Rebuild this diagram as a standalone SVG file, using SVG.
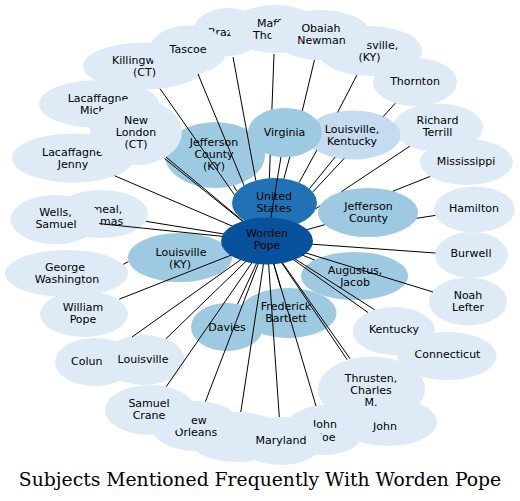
<svg xmlns="http://www.w3.org/2000/svg" width="520" height="501" viewBox="0 0 520 501">
<style>
.l{fill:#deebf7}
.m{fill:#9ecae1}
.k{fill:#c6dbef}
.u{fill:#2171b5}
.w{fill:#08519c}
text{font-family:"DejaVu Sans",sans-serif;font-size:11px;fill:#000;text-anchor:middle}
text.s{text-anchor:start}
#edges path{stroke:#000;stroke-width:1;fill:none}
text.t{font-family:"DejaVu Serif",serif;font-size:18.75px}
</style>
<rect width="520" height="501" fill="#fff"/>
<g id="nodes">
<g id="n-braz"><ellipse class="l" cx="228" cy="32" rx="35" ry="24"/><text class="s" x="208" y="36">Braz</text></g>
<g id="n-killingworth"><ellipse class="l" cx="144" cy="66" rx="61" ry="23.5"/><text class="s" x="112" y="63.5">Killingw</text><text x="144.5" y="75.5">(CT)</text></g>
<g id="n-tascoe"><ellipse class="l" cx="188" cy="50" rx="38.5" ry="24.5"/><text x="188" y="53.3">Tascoe</text></g>
<g id="n-louisville-ky-2"><ellipse class="l" cx="370" cy="51" rx="52" ry="25"/><text class="s" x="366.5" y="49">sville,</text><text x="369.5" y="61">(KY)</text></g>
<g id="n-maff"><ellipse class="l" cx="275" cy="29" rx="46" ry="24"/><text class="s" x="257" y="26.5">Maff</text><text class="s" x="253" y="38.5">Tho</text></g>
<g id="n-obaiah"><ellipse class="l" cx="321" cy="35" rx="50" ry="25"/><text x="321" y="32">Obaiah</text><text x="321.5" y="44">Newman</text></g>
<g id="n-thornton"><ellipse class="l" cx="415" cy="82" rx="42" ry="24"/><text x="415" y="85">Thornton</text></g>
<g id="n-lacaffagne-mich"><ellipse class="l" cx="99" cy="104" rx="60" ry="24"/><text x="98" y="102">Lacaffagne</text><text class="s" x="80" y="114">Mich</text></g>
<g id="n-lacaffagne-jenny"><ellipse class="l" cx="73" cy="158" rx="61" ry="24.5"/><text class="s" x="42" y="155.5">Lacaffagne</text><text x="73" y="167.5">Jenny</text></g>
<g id="n-jefferson-county-ky"><ellipse class="m" cx="215" cy="155" rx="50" ry="33"/><text x="214" y="146">Jefferson</text><text x="214" y="158">County</text><text x="214" y="170">(KY)</text></g>
<g id="n-new-london"><ellipse class="l" cx="136" cy="132" rx="46" ry="33"/><text x="136" y="124">New</text><text x="136" y="136">London</text><text x="136" y="148">(CT)</text></g>
<g id="n-richard-terrill"><ellipse class="l" cx="438" cy="127.5" rx="45" ry="24"/><text x="437.5" y="124">Richard</text><text x="437.5" y="136">Terrill</text></g>
<g id="n-mississippi"><ellipse class="l" cx="466.5" cy="162" rx="46.5" ry="23"/><text x="466" y="165">Mississippi</text></g>
<g id="n-hamilton"><ellipse class="l" cx="474.5" cy="209.5" rx="40.5" ry="23"/><text x="474" y="212.3">Hamilton</text></g>
<g id="n-meal"><ellipse class="l" cx="101" cy="214" rx="47" ry="24"/><text class="s" x="91.5" y="213">meal,</text><text class="s" x="100" y="225">mas</text></g>
<g id="n-wells-samuel"><ellipse class="l" cx="55.5" cy="219.5" rx="45" ry="24.5"/><text x="55.5" y="216">Wells,</text><text x="56" y="228">Samuel</text></g>
<g id="n-burwell"><ellipse class="l" cx="471.5" cy="255" rx="36.5" ry="23"/><text x="471" y="257.3">Burwell</text></g>
<g id="n-george-washington"><ellipse class="l" cx="66.5" cy="273.5" rx="61.5" ry="23.5"/><text x="65" y="271">George</text><text x="67" y="283">Washington</text></g>
<g id="n-william-pope"><ellipse class="l" cx="84" cy="314" rx="44" ry="23"/><text x="83" y="311">William</text><text x="83" y="323">Pope</text></g>
<g id="n-noah-lefter"><ellipse class="l" cx="468" cy="301.5" rx="39" ry="24"/><text x="468" y="299">Noah</text><text x="468" y="311">Lefter</text></g>
<g id="n-connecticut"><ellipse class="l" cx="447" cy="356" rx="49.5" ry="24"/><text x="447.5" y="358">Connecticut</text></g>
<g id="n-kentucky"><ellipse class="l" cx="394" cy="331" rx="41" ry="24"/><text x="394" y="333.3">Kentucky</text></g>
<g id="n-colun"><ellipse class="l" cx="95" cy="362" rx="40" ry="24"/><text class="s" x="71" y="365">Colun</text></g>
<g id="n-louisville"><ellipse class="l" cx="144" cy="360" rx="41" ry="25"/><text x="143" y="363">Louisville</text></g>
<g id="n-hidden"><ellipse class="l" cx="237" cy="437" rx="50" ry="25"/></g>
<g id="n-new-orleans"><ellipse class="l" cx="196" cy="426" rx="45" ry="25"/><text class="s" x="191" y="424">ew</text><text x="196" y="436">Orleans</text></g>
<g id="n-samuel-crane"><ellipse class="l" cx="150" cy="410" rx="45" ry="25"/><text x="149" y="407">Samuel</text><text x="149" y="419">Crane</text></g>
<g id="n-john-loe"><ellipse class="l" cx="325" cy="430" rx="40" ry="25"/><text class="s" x="313" y="428.3">John</text><text class="s" x="319" y="440.7">loe</text></g>
<g id="n-maryland"><ellipse class="l" cx="281" cy="441" rx="42" ry="24"/><text x="281" y="444">Maryland</text></g>
<g id="n-john"><ellipse class="l" cx="388" cy="422" rx="49" ry="24"/><text class="s" x="373" y="430">John</text></g>
<g id="n-thrusten"><ellipse class="l" cx="371.5" cy="389.5" rx="53.5" ry="33"/><text x="371" y="381.5">Thrusten,</text><text x="371" y="393.5">Charles</text><text x="371" y="405.5">M.</text></g>
<g id="n-louisville-kentucky"><ellipse class="k" cx="353" cy="135" rx="47.5" ry="24.5"/><text x="352" y="133">Louisville,</text><text x="352" y="145">Kentucky</text></g>
<g id="n-virginia"><ellipse class="m" cx="285" cy="132.5" rx="37" ry="24.5"/><text x="284.5" y="135.7">Virginia</text></g>
<g id="n-jefferson-county"><ellipse class="m" cx="368" cy="212.5" rx="50" ry="24.5"/><text x="368.5" y="209.7">Jefferson</text><text x="368.5" y="221.7">County</text></g>
<g id="n-louisville-ky"><ellipse class="m" cx="180" cy="257.5" rx="52" ry="24.5"/><text x="181" y="255.5">Louisville</text><text x="180" y="267.5">(KY)</text></g>
<g id="n-augustus-jacob"><ellipse class="m" cx="354.5" cy="276" rx="53.5" ry="24"/><text x="355" y="274">Augustus,</text><text x="355" y="286">Jacob</text></g>
<g id="n-davies"><ellipse class="m" cx="227" cy="327" rx="36" ry="24"/><text x="227" y="330.7">Davies</text></g>
<g id="n-frederick-bartlett"><ellipse class="m" cx="288" cy="313" rx="48.5" ry="25"/><text x="286" y="309.5">Frederick</text><text x="286" y="321.5">Bartlett</text></g>
<g id="n-united-states"><ellipse class="u" cx="274.5" cy="203" rx="42.5" ry="25"/><text x="274" y="200">United</text><text x="274" y="212">States</text></g>
</g>
<g id="edges">
<path d="M234.4,194.7L160,88.7"/>
<path d="M244.1,185.5L198,74"/>
<path d="M255.8,180.5L233,57"/>
<path d="M269.4,178.2L270.2,154.9M271.9,109.6L274,54"/>
<path d="M283.9,178.6L289.8,156.8M302.3,110.8L314.5,59.8"/>
<path d="M299.1,182.6L316.8,150.2M337.6,112.4L356.9,75.1"/>
<path d="M312.7,192.1L344.1,158.5M383.2,116.7L395.3,103.2"/>
<path d="M315.9,208.6L319.7,206.1M341.4,191.7L409.8,146.2"/>
<path d="M393,191.2L430.2,176.4"/>
<path d="M416.6,218.3L435.4,215.4"/>
<path d="M267,241L435.4,253"/>
<path d="M267,241L433,292"/>
<path d="M267,241L368,312.5"/>
<path d="M267,241L374.7,309.8"/>
<path d="M267,241L350.1,358.7"/>
<path d="M267,241L347.2,359.7"/>
<path d="M267,241L316,406"/>
<path d="M267,241L279.3,417"/>
<path d="M267,241L240.8,412"/>
<path d="M267,241L205.4,401.6"/>
<path d="M267,241L166.2,386.7"/>
<path d="M267,241L165.9,338.8"/>
<path d="M267,241L132,337"/>
<path d="M267,241L119.2,299.2"/>
<path d="M123.2,264.3L128.3,261.7"/>
<path d="M267,241L99.2,223.6"/>
<path d="M267,241L145.8,221.3"/>
<path d="M267,241L114.7,175.8"/>
<path d="M267,241L166,157"/>
<path d="M267,241L164.6,158.6"/>
<path d="M236.9,191.3L233.5,185.6"/>
<path d="M267,241L281,156.9"/>
<path d="M309.4,188.8L335,157.2"/>
<path d="M267,241L324.7,224.7"/>
<path d="M267,241L314.6,260"/>
<path d="M267,241L280.8,288.3"/>
<path d="M267,241L237.7,304"/>
</g>
<g id="n-worden-pope"><ellipse class="w" cx="267" cy="241" rx="46" ry="23.5"/><text x="267" y="237">Worden</text><text x="267" y="249">Pope</text></g>
<text class="t" x="260" y="486">Subjects Mentioned Frequently With Worden Pope</text>
</svg>
